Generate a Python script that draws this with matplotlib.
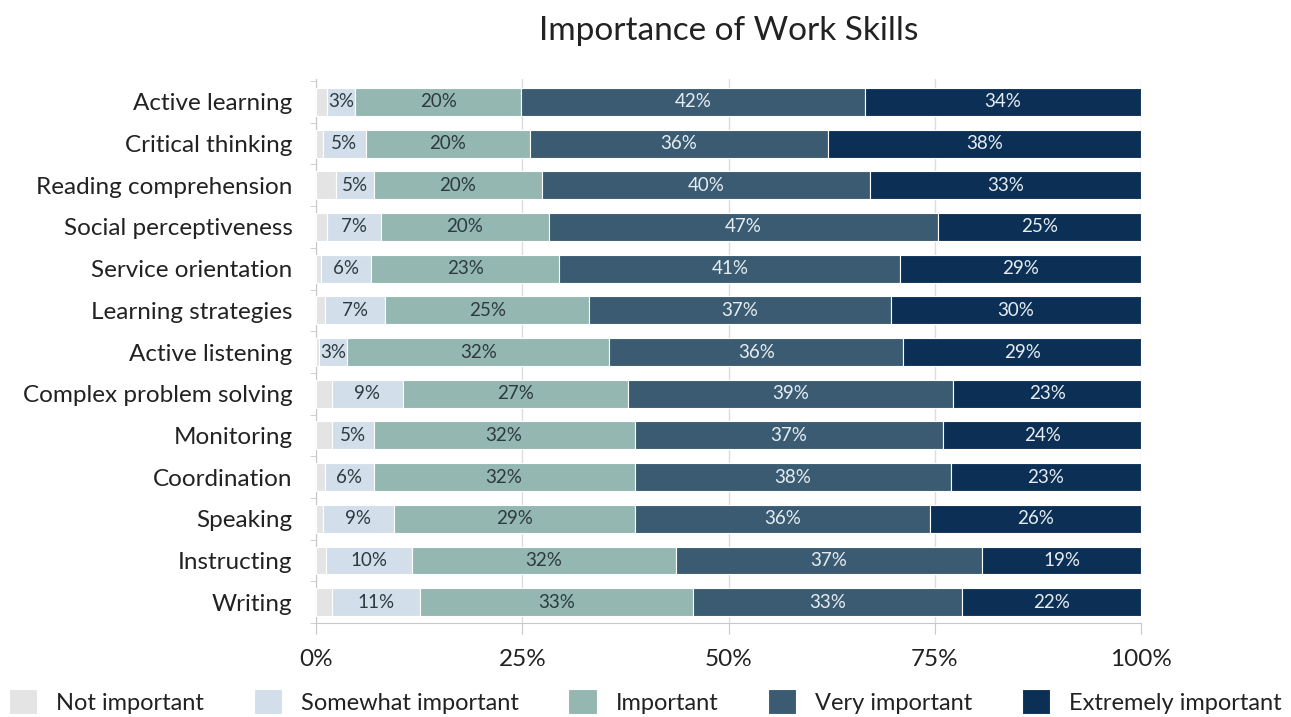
import numpy as np
import matplotlib.pyplot as plt

plt.rcParams['font.family'] = ['Lato', 'DejaVu Sans']

skills = ['Active learning', 'Critical thinking', 'Reading comprehension',
          'Social perceptiveness', 'Service orientation', 'Learning strategies',
          'Active listening', 'Complex problem solving', 'Monitoring',
          'Coordination', 'Speaking', 'Instructing', 'Writing']

levels = ['Not important', 'Somewhat important', 'Important',
          'Very important', 'Extremely important']

# share of respondents (%) per level, one list per level, same order as skills
not_important = [1.3, 0.8, 2.4, 1.3, 0.6, 1.1, 0.4, 1.9, 1.9, 1.1, 0.8, 1.2, 1.9]
somewhat = [3.4, 5.2, 4.6, 6.6, 6.1, 7.3, 3.4, 8.6, 5.1, 5.9, 8.6, 10.4, 10.7]
important = [20.2, 19.9, 20.4, 20.3, 22.8, 24.7, 31.7, 27.3, 31.6, 31.6, 29.2, 32.0, 33.1]
very = [41.6, 36.1, 39.8, 47.2, 41.3, 36.6, 35.7, 39.4, 37.4, 38.3, 35.8, 37.1, 32.6]
extremely = [33.5, 38.0, 32.8, 24.6, 29.2, 30.3, 28.8, 22.8, 24.0, 23.1, 25.6, 19.3, 21.7]

colors = ['#e4e4e4', '#d2dfea', '#94b8b1', '#3a5b71', '#0c3055']
text_colors = [None, '#2c3a40', '#2c3a40', '#e6edf2', '#e6edf2']

fig = plt.figure(figsize=(12.91, 7.17), dpi=100)
ax = fig.add_axes([0.2448, 0.1311, 0.6391, 0.7587])

y = np.arange(len(skills))
left = np.zeros(len(skills))
series = [not_important, somewhat, important, very, extremely]
for k, vals in enumerate(series):
    vals = np.array(vals)
    bars = ax.barh(y, vals, left=left, height=0.67, color=colors[k],
                   edgecolor='white', linewidth=0.8, label=levels[k], zorder=3)
    if text_colors[k] is not None:
        for b, v in zip(bars, vals):
            ax.text(b.get_x() + b.get_width() / 2, b.get_y() + b.get_height() / 2,
                    f'{v:.0f}%', ha='center', va='center', fontsize=13.5,
                    color=text_colors[k], zorder=4)
    left += vals

ax.set_xlim(0, 100)
ax.set_ylim(12.45, -0.55)
ax.set_yticks(y)
ax.set_yticklabels(skills, fontsize=17.5, color='#222222')
ax.set_yticks(np.arange(-0.5, 12.6, 1), minor=True)
ax.tick_params(axis='y', which='major', length=0, pad=17)
ax.tick_params(axis='y', which='minor', length=4, color='#c8c8c8')

ax.set_xticks([0, 25, 50, 75, 100])
ax.set_xticklabels(['0%', '25%', '50%', '75%', '100%'], fontsize=17.5, color='#222222')
ax.tick_params(axis='x', length=8, color='#c8c8c8', pad=11)
ax.xaxis.grid(True, color='#dcdcdc', linewidth=1, zorder=0)
ax.set_axisbelow(True)

for s in ['top', 'right']:
    ax.spines[s].set_visible(False)
for s in ['left', 'bottom']:
    ax.spines[s].set_color('#c8c8c8')

ax.set_title('Importance of Work Skills', fontsize=24, color='#222222', pad=28)

fig.legend(loc='lower center', bbox_to_anchor=(0.5, -0.025), ncol=5, frameon=False,
           fontsize=17, handlelength=1.2, handleheight=1.2, handletextpad=0.8,
           columnspacing=2.1, labelcolor='#222222')

fig.savefig('out.png', dpi=100, facecolor='white')
